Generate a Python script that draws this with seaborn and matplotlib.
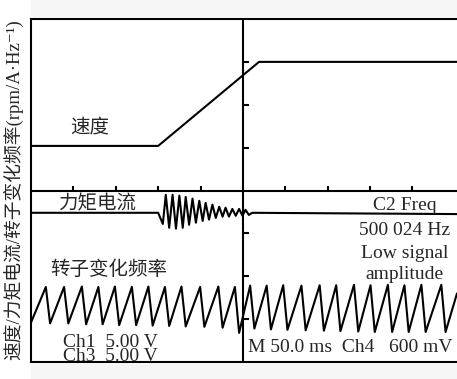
import numpy as np
import pandas as pd
import matplotlib
matplotlib.use("Agg")
import matplotlib.pyplot as plt
from matplotlib.patches import Rectangle
import seaborn as sns

sns.set_style("white")
plt.rcParams["font.family"] = ["Liberation Serif", "Noto Sans CJK SC", "DejaVu Serif"]

# Oscilloscope traces, in screen divisions (10 x 8 graticule, centre at 0,0)
speed_x = [-5.0, -2.0, 0.38, 5.05]
speed_y = [1.04, 1.04, 3.0, 3.0]

torque_x = [-5.0, -2.00, -1.89, -1.82, -1.74, -1.66, -1.58, -1.50, -1.42, -1.35,
            -1.27, -1.19, -1.11, -1.03, -0.95, -0.88, -0.80, -0.72, -0.64, -0.56,
            -0.48, -0.41, -0.33, -0.25, -0.17, -0.09, -0.01, 0.06, 0.14, 0.22, 5.05]
torque_y = [-0.52, -0.52, -0.78, -0.10, -0.87, -0.10, -0.89, -0.12, -0.87, -0.15,
            -0.80, -0.19, -0.75, -0.24, -0.71, -0.29, -0.68, -0.33, -0.64, -0.38,
            -0.61, -0.40, -0.61, -0.43, -0.59, -0.43, -0.59, -0.45, -0.57, -0.52, -0.55]

rotor_x = [-5.0, -4.65, -4.55, -4.22, -4.12, -3.80, -3.70, -3.41, -3.31, -3.02,
           -2.92, -2.62, -2.52, -2.23, -2.13, -1.84, -1.74, -1.45, -1.35, -1.01,
           -0.91, -0.58, -0.48, -0.19, -0.09, 0.17, 0.27, 0.56, 0.66, 0.95,
           1.05, 1.38, 1.48, 1.81, 1.91, 2.20, 2.30, 2.62, 2.72, 3.01,
           3.11, 3.42, 3.52, 3.81, 3.91, 4.21, 4.31, 4.68, 4.78, 5.05]
rotor_y = [-3.08, -2.25, -3.10, -2.25, -3.10, -2.24, -3.12, -2.25, -3.12, -2.24,
           -3.14, -2.25, -3.14, -2.24, -3.15, -2.25, -3.16, -2.24, -3.17, -2.25,
           -3.18, -2.24, -3.20, -2.25, -3.32, -2.22, -3.22, -2.22, -3.24, -2.21,
           -3.25, -2.22, -3.26, -2.21, -3.27, -2.21, -3.28, -2.20, -3.29, -2.21,
           -3.30, -2.20, -3.30, -2.21, -3.30, -2.20, -3.30, -2.20, -3.30, -2.40]

trace_labels = ["速度", "力矩电流", "转子变化频率"]
ylabel = "速度/力矩电流/转子变化频率(rpm/A·Hz⁻¹)"
ch_lines = ["Ch1  5.00 V", "Ch3  5.00 V"]
timebase = "M 50.0 ms  Ch4   600 mV"
freq_lines = ["C2 Freq", "500 024 Hz", "Low signal", "amplitude"]

# graticule tick positions along the centre lines
x_divs = [-4, -3, -2, -1, 1, 2, 3, 4]
y_divs = [-3, -2, -1, 1, 2, 3]

W, H = 457, 379
fig = plt.figure(figsize=(W / 100, H / 100), dpi=100)
fig.patch.set_facecolor("white")

# faint grey bands above and below the screen
band = "#f6f6f6"
fig.patches.append(Rectangle((31 / W, 0), 1 - 31 / W, 16 / H, transform=fig.transFigure,
                             facecolor=band, edgecolor="none", zorder=0))
fig.patches.append(Rectangle((31 / W, 1 - 17 / H), 1 - 31 / W, 17 / H, transform=fig.transFigure,
                             facecolor=band, edgecolor="none", zorder=0))

ax = fig.add_axes([31 / W, 17 / H, (W - 31) / W, (362 - 19) / H])
ax.set_xlim(-5.0, 5.05)
ax.set_ylim(-4.0, 4.0)
ax.set_facecolor("white")

lw = 1.5
traces = pd.concat([
    pd.DataFrame({"x": speed_x, "y": speed_y, "ch": "speed"}),
    pd.DataFrame({"x": torque_x, "y": torque_y, "ch": "torque"}),
    pd.DataFrame({"x": rotor_x, "y": rotor_y, "ch": "rotor"}),
])
for ch, d in traces.groupby("ch", sort=False):
    sns.lineplot(data=d, x="x", y="y", ax=ax, sort=False, estimator=None,
                 color="black", lw=lw, legend=False)

# centre cross-hair with division ticks
ax.axhline(0, color="black", lw=lw)
ax.axvline(0, color="black", lw=lw)
for xd in x_divs:
    ax.plot([xd, xd], [0, 0.1], color="black", lw=lw, solid_capstyle="butt")
for yd in y_divs:
    ax.plot([0, 0.15], [yd, yd], color="black", lw=lw, solid_capstyle="butt")

for side in ["left", "top", "bottom"]:
    ax.spines[side].set_visible(True)
    ax.spines[side].set_color("black")
    ax.spines[side].set_linewidth(lw)
ax.spines["right"].set_visible(False)
ax.set_xticks([])
ax.set_yticks([])
ax.set_xlabel("")
ax.set_ylabel("")

fs = 14
ax.text(-3.61, 1.46, trace_labels[0], fontsize=fs, ha="center", va="center")
ax.text(-3.41, -0.31, trace_labels[1], fontsize=fs, ha="center", va="center")
ax.text(-3.16, -1.85, trace_labels[2], fontsize=fs, ha="center", va="center")

# channel scale readout, two tightly packed lines
ax.text(-4.25, -3.70, "\n".join(ch_lines), fontsize=fs, ha="left", va="center",
        linespacing=0.77)
ax.text(0.12, -3.67, timebase, fontsize=fs, ha="left", va="center")

for yy, t in zip([-0.36, -0.94, -1.46, -1.95], freq_lines):
    ax.text(3.82, yy, t, fontsize=fs, ha="center", va="center")

fig.text(13 / W, 0.5, ylabel, rotation=90, fontsize=13.5, ha="center", va="center")

fig.savefig("out.png", dpi=100, facecolor="white")
